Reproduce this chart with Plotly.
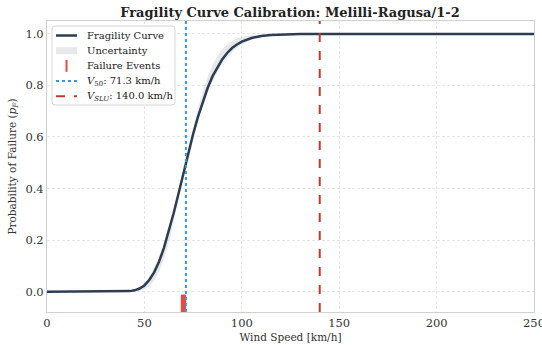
import plotly.graph_objects as go

# Wind speed grid [km/h] and fragility curve values
speed = [0, 30, 35, 40, 42.5, 45, 47.5, 50, 52.5, 55, 57.5, 60, 62.5, 65, 67.5,
         70, 72.5, 75, 77.5, 80, 82.5, 85, 87.5, 90, 92.5, 95, 97.5, 100,
         105, 110, 115, 120, 130, 140, 250]
p_fail = [0.0, 0.0, 0.0, 0.001, 0.002, 0.005, 0.012, 0.024, 0.045, 0.075, 0.116,
          0.169, 0.232, 0.304, 0.380, 0.459, 0.537, 0.611, 0.678, 0.739, 0.791,
          0.836, 0.872, 0.902, 0.926, 0.945, 0.959, 0.970, 0.984, 0.992, 0.996,
          0.998, 1.0, 1.0, 1.0]

# Uncertainty band bounds
p_lower = [0.0, 0.0, 0.0, 0.0001, 0.0003, 0.001, 0.003, 0.009, 0.021, 0.042,
           0.076, 0.125, 0.190, 0.269, 0.358, 0.451, 0.534, 0.602, 0.666, 0.722,
           0.773, 0.816, 0.853, 0.884, 0.909, 0.929, 0.946, 0.959, 0.976, 0.987,
           0.993, 0.996, 0.999, 1.0, 1.0]
p_upper = [0.0, 0.0, 0.0001, 0.0015, 0.004, 0.009, 0.019, 0.034, 0.058, 0.092,
           0.135, 0.188, 0.250, 0.318, 0.389, 0.462, 0.544, 0.632, 0.711, 0.779,
           0.835, 0.879, 0.914, 0.940, 0.959, 0.972, 0.982, 0.988, 0.995, 0.998,
           0.999, 1.0, 1.0, 1.0, 1.0]

# Observed failure events (wind speed at failure)
event_speed = [69.2, 69.7, 70.1, 70.5, 70.9]
event_level = [-0.05, -0.05, -0.05, -0.05, -0.05]

V50 = 71.3
V_SLU = 140.0

FONT = "DejaVu Serif"
GRID = "#e6e6e6"
CURVE_COLOR = "#2c3e50"
BAND_COLOR = "rgba(200,205,210,0.45)"
EVENT_COLOR = "#e74c3c"
V50_STYLE = dict(color="#3498db", width=2, dash="dot")
VSLU_STYLE = dict(color="#c0392b", width=2, dash="dash")

W, H = 542, 345
M = dict(l=47, r=8, t=21, b=33)

fig = go.Figure()

fig.add_trace(go.Scatter(
    x=speed, y=p_lower, mode="lines", line=dict(width=0, color="rgba(0,0,0,0)"),
    hoverinfo="skip"))
fig.add_trace(go.Scatter(
    x=speed, y=p_upper, mode="lines", line=dict(width=0, color="rgba(0,0,0,0)"),
    fill="tonexty", fillcolor=BAND_COLOR, name="Uncertainty"))
fig.add_trace(go.Scatter(
    x=speed, y=p_fail, mode="lines", line=dict(color=CURVE_COLOR, width=2.5),
    name="Fragility Curve"))
fig.add_trace(go.Scatter(
    x=event_speed, y=event_level, mode="markers",
    marker=dict(symbol="line-ns", size=14, line=dict(color=EVENT_COLOR, width=2)),
    name="Failure Events"))

fig.add_vline(x=V50, line=V50_STYLE)
fig.add_vline(x=V_SLU, line=VSLU_STYLE)

# ---- legend box drawn in paper coordinates (pixel helpers) ----
PW = W - M["l"] - M["r"]
PH = H - M["t"] - M["b"]


def px(xp):
    return (xp - M["l"]) / PW


def py(yp):
    return (H - M["b"] - yp) / PH


box_l, box_r, box_t, box_b, rad = 52, 175, 26, 105, 3
path = (f"M {px(box_l + rad)},{py(box_t)} L {px(box_r - rad)},{py(box_t)} "
        f"Q {px(box_r)},{py(box_t)} {px(box_r)},{py(box_t + rad)} "
        f"L {px(box_r)},{py(box_b - rad)} Q {px(box_r)},{py(box_b)} {px(box_r - rad)},{py(box_b)} "
        f"L {px(box_l + rad)},{py(box_b)} Q {px(box_l)},{py(box_b)} {px(box_l)},{py(box_b - rad)} "
        f"L {px(box_l)},{py(box_t + rad)} Q {px(box_l)},{py(box_t)} {px(box_l + rad)},{py(box_t)} Z")
fig.add_shape(type="path", path=path, xref="paper", yref="paper", layer="above",
              fillcolor="rgba(255,255,255,0.85)", line=dict(color="#d5d5d5", width=1))

legend_rows = [
    ("Fragility Curve", "line", dict(color=CURVE_COLOR, width=2.5)),
    ("Uncertainty", "patch", None),
    ("Failure Events", "tick", None),
    ("<i>V</i><sub>50</sub>: %.1f km/h" % V50, "line", V50_STYLE),
    ("<i>V</i><sub><i>SLU</i></sub>: %.1f km/h" % V_SLU, "line", VSLU_STYLE),
]
row_y0, row_step = 35.5, 15.2
sym_l, sym_r, text_x = 56, 77, 85
for i, (label, kind, style) in enumerate(legend_rows):
    yc = row_y0 + i * row_step
    if kind == "line":
        fig.add_shape(type="line", xref="paper", yref="paper", layer="above",
                      x0=px(sym_l), x1=px(sym_r), y0=py(yc), y1=py(yc), line=style)
    elif kind == "patch":
        fig.add_shape(type="rect", xref="paper", yref="paper", layer="above",
                      x0=px(sym_l), x1=px(sym_r), y0=py(yc + 3.5), y1=py(yc - 3.5),
                      fillcolor=BAND_COLOR, line=dict(width=0))
    else:
        xm = (sym_l + sym_r) / 2
        fig.add_shape(type="line", xref="paper", yref="paper", layer="above",
                      x0=px(xm), x1=px(xm), y0=py(yc + 6), y1=py(yc - 6),
                      line=dict(color=EVENT_COLOR, width=2))
    fig.add_annotation(x=px(text_x), y=py(yc), xref="paper", yref="paper",
                       text=label, showarrow=False, xanchor="left", yanchor="middle",
                       font=dict(family=FONT, size=10, color="#222222"))

axis_common = dict(
    showgrid=True, gridcolor=GRID, griddash="3px,2px", gridwidth=1,
    showline=True, linecolor="#d0d0d0", linewidth=1, mirror=True,
    zeroline=False, ticks="", automargin=False, ticklabeloverflow="allow",
    tickfont=dict(family=FONT, size=11.5, color="#333333"),
)

fig.update_xaxes(range=[0, 250], tickvals=[0, 50, 100, 150, 200, 250],
                 title=dict(text="Wind Speed [km/h]", standoff=4,
                            font=dict(family=FONT, size=10.5, color="#333333")),
                 **axis_common)
fig.update_yaxes(range=[-0.079, 1.05], tickvals=[0, 0.2, 0.4, 0.6, 0.8, 1.0],
                 tickformat=".1f",
                 title=dict(text="Probability of Failure (<i>p</i><sub><i>F</i></sub>)",
                            standoff=6, font=dict(family=FONT, size=10.5, color="#333333")),
                 **axis_common)

fig.update_layout(
    width=W, height=H,
    margin=M,
    paper_bgcolor="white", plot_bgcolor="white",
    font=dict(family=FONT, color="#222222"),
    title=dict(text="<b>Fragility Curve Calibration: Melilli-Ragusa/1-2</b>",
               x=0.535, xanchor="center", y=0.965, yanchor="middle",
               font=dict(family=FONT, size=13, color="#222222")),
    showlegend=False,
)

fig.write_html("out.html")
